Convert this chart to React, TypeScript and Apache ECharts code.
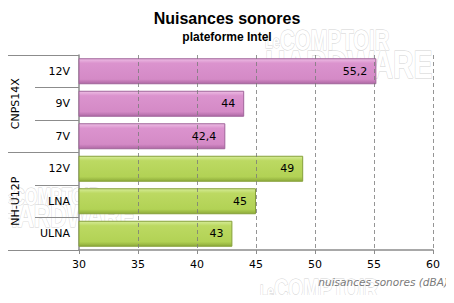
import React, { useEffect, useRef } from "react";
import * as echarts from "echarts";

const title = "Nuisances sonores";
const subtitle = "plateforme Intel";
const axisTitle = "nuisances sonores (dBA)";
const groups = ["CNPS14X", "NH-U12P"];
const categories = ["12V", "9V", "7V", "12V", "LNA", "ULNA"];
const values = [55.2, 44, 42.4, 49, 45, 43];
const groupOf = [0, 0, 0, 1, 1, 1];
const xMin = 30;
const xMax = 60;
const xStep = 5;
const gridLines = [35, 40, 45, 50, 55, 60];

const FONT = "DejaVu Sans";

const palettes = [
  { top: "#EDBDE4", main: "#DB93CE", low: "#D48AC6", bottom: "#AE68A4", border: "#A0649A" },
  { top: "#D6EC98", main: "#BCD962", low: "#B2D255", bottom: "#8DAA3A", border: "#86A03A" },
];

function barColor(g: number) {
  const p = palettes[g];
  return new echarts.graphic.LinearGradient(0, 0, 0, 1, [
    { offset: 0, color: p.top },
    { offset: 0.18, color: p.main },
    { offset: 0.82, color: p.low },
    { offset: 1, color: p.bottom },
  ]);
}

function watermark(x: number, y: number, s: number, withSecond: boolean) {
  const st = { fill: "#ffffff", stroke: "#d2d2d2", lineWidth: 1, fontFamily: "Liberation Sans", fontWeight: "bold" as const };
  const children: any[] = [
    { type: "text", x: 0, y: 9 * s, scaleX: 0.7, style: { ...st, text: "Le", fontSize: 18 * s } },
    { type: "text", x: 15 * s, y: 0, scaleX: 0.68, style: { ...st, text: "COMPTOIR", fontSize: 30 * s } },
  ];
  if (withSecond) {
    children.push({ type: "text", x: 0, y: 21 * s, scaleX: 0.73, style: { ...st, text: "HARDWARE", fontSize: 39 * s } });
  }
  return { type: "group", x, y, z: 0, silent: true, children };
}

export default function App() {
  const ref = useRef<HTMLDivElement>(null);
  useEffect(() => {
    if (!ref.current) return;
    const chart = echarts.init(ref.current, null, { renderer: "svg" });
    chart.setOption({
      animation: false,
      backgroundColor: "#ffffff",
      title: {
        text: title,
        subtext: subtitle,
        left: "center",
        top: 5,
        itemGap: 5,
        textStyle: { fontFamily: "Liberation Sans", fontWeight: "bold", fontSize: 16, color: "#000" },
        subtextStyle: { fontFamily: "Liberation Sans", fontWeight: "bold", fontSize: 12, color: "#000" },
      },
      graphic: [
        watermark(265, 24, 1, true),
        watermark(260, 274, 0.95, false),
        watermark(1, 184, 0.8, true),
        {
          type: "text",
          right: 6,
          top: 276,
          style: { text: axisTitle, fontFamily: FONT, fontStyle: "italic", fontSize: 10.5, fill: "#7a7a7a" },
          z: 10,
        },
      ],
      grid: { left: 79, right: 21, top: 55, bottom: 53 },
      xAxis: {
        type: "value",
        min: xMin,
        max: xMax,
        interval: xStep,
        axisLine: { show: true, lineStyle: { color: "#8c8c8c", width: 1.5 } },
        axisTick: { show: true, length: 4, lineStyle: { color: "#8c8c8c" } },
        axisLabel: { color: "#000", fontFamily: FONT, fontSize: 11, margin: 9 },
        splitLine: { show: false },
      },
      yAxis: [
        {
          type: "category",
          data: categories,
          inverse: true,
          position: "left",
          axisLine: { show: true, lineStyle: { color: "#8c8c8c", width: 1.5 } },
          axisTick: { show: true, length: 44, interval: 0, lineStyle: { color: "#8c8c8c" } },
          axisLabel: { color: "#000", fontFamily: FONT, fontSize: 11, margin: 9 },
        },
        {
          type: "category",
          data: groups,
          inverse: true,
          position: "left",
          axisLine: { show: false },
          axisTick: { show: true, length: 79, interval: 0, lineStyle: { color: "#8c8c8c" } },
          axisLabel: { color: "#000", fontFamily: FONT, fontSize: 11, rotate: 90, margin: 58 },
        },
      ],
      series: [
        {
          type: "bar",
          yAxisIndex: 0,
          barCategoryGap: "20%",
          z: 3,
          data: values.map((v, i) => ({
            value: v,
            itemStyle: { color: barColor(groupOf[i]), borderColor: palettes[groupOf[i]].border, borderWidth: 1 },
          })),
          label: {
            show: true,
            position: "insideRight",
            distance: 9,
            color: "#000",
            fontFamily: FONT,
            fontSize: 11,
            formatter: (p: any) => String(p.value).replace(".", ","),
          },
          markLine: {
            silent: true,
            symbol: ["none", "none"],
            label: { show: false },
            lineStyle: { color: "#7a7a7a", type: [4, 3], width: 1, opacity: 0.8 },
            data: gridLines.map((g) => ({ xAxis: g })),
          },
        },
      ],
    });
    return () => chart.dispose();
  }, []);
  return <div ref={ref} style={{ width: 454, height: 303, margin: -8 }} />;
}
